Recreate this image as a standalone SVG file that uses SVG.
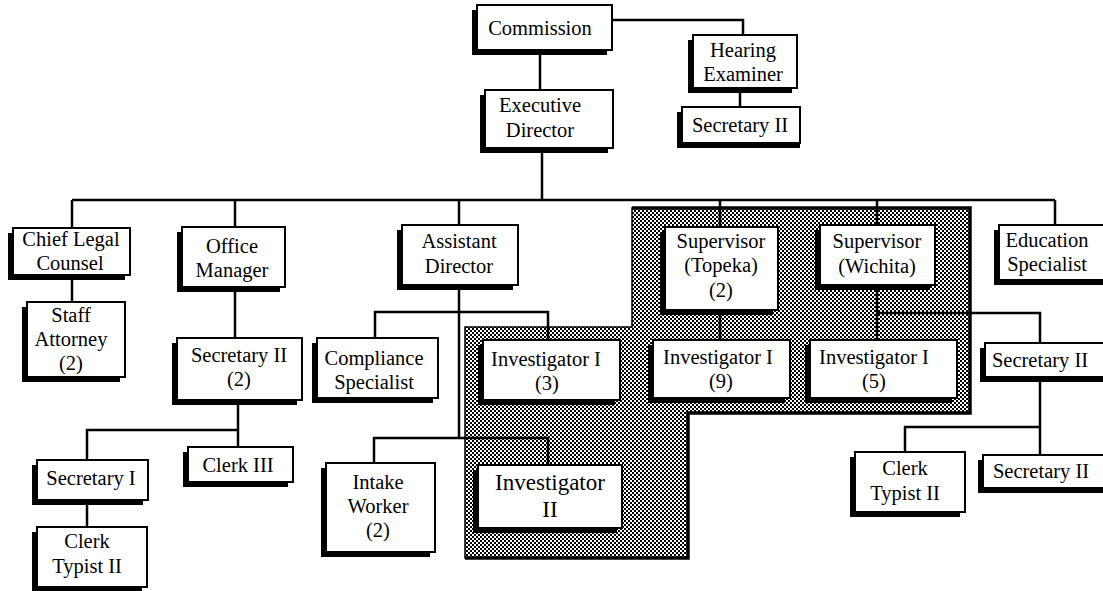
<svg xmlns="http://www.w3.org/2000/svg" width="1103" height="591" viewBox="0 0 1103 591">
<defs>
<pattern id="dither" width="4" height="4" patternUnits="userSpaceOnUse">
<rect width="4" height="4" fill="#ffffff"/>
<rect x="0" y="0" width="2" height="2" fill="#000"/>
<rect x="2" y="2" width="2" height="2" fill="#000"/>
</pattern>
<style>
.sh{fill:#000}
.bx{fill:#fff;stroke:#000;stroke-width:2}
.t{font-family:"Liberation Serif","Times New Roman",serif;font-size:20.5px;fill:#000;text-anchor:middle}
.big{font-size:23px}
.ln{fill:none;stroke:#000;stroke-width:2.5}
</style>
</defs>
<rect width="1103" height="591" fill="#fff"/>

<g id="shaded-area">
<polygon points="465,327 632,327 632,208 970,208 970,413 688,413 688,558 465,558" fill="url(#dither)" stroke="#000" stroke-width="1.5"/>
<polyline points="632,208 970,208 970,413 688,413 688,558 465,558" fill="none" stroke="#000" stroke-width="3.5"/>
</g>

<g id="connectors">
<path class="ln" d="M540,50V90"/>
<path class="ln" d="M612,20H743V35"/>
<path class="ln" d="M740,88V107"/>
<path class="ln" d="M542,148V200"/>
<path class="ln" d="M72,200H1055"/>
<path class="ln" d="M72,200V228"/>
<path class="ln" d="M235,200V227"/>
<path class="ln" d="M459,200V225"/>
<path class="ln" d="M720,200V227"/>
<path class="ln" d="M877,200V225"/>
<path class="ln" d="M1055,200V225"/>
<path class="ln" d="M72,275V302"/>
<path class="ln" d="M235,287V338"/>
<path class="ln" d="M238,400V447"/>
<path class="ln" d="M87,460V430H238"/>
<path class="ln" d="M87,500V527"/>
<path class="ln" d="M459,285V438"/>
<path class="ln" d="M375,338V312H548V340"/>
<path class="ln" d="M374,463V438H548V465"/>
<path class="ln" d="M720,310V340"/>
<path class="ln" d="M877,285V340"/>
<path class="ln" d="M877,313H1040V343"/>
<path class="ln" d="M1040,377V455"/>
<path class="ln" d="M905,452V427H1040"/>
</g>

<g id="commission"><rect class="sh" x="472" y="10" width="135" height="45"/><rect class="bx" x="477" y="5" width="135" height="45"/><text class="t" x="540" y="35">Commission</text></g>
<g id="hearing-examiner"><rect class="sh" x="688" y="40" width="104" height="53"/><rect class="bx" x="693" y="35" width="104" height="53"/><text class="t" x="743" y="57">Hearing</text><text class="t" x="743" y="81">Examiner</text></g>
<g id="secretary-2-top"><rect class="sh" x="677" y="112" width="123" height="36"/><rect class="bx" x="682" y="107" width="118" height="36"/><text class="t" x="740" y="132">Secretary II</text></g>
<g id="executive-director"><rect class="sh" x="480" y="95" width="128" height="58"/><rect class="bx" x="485" y="90" width="128" height="58"/><text class="t" x="540" y="112">Executive</text><text class="t" x="540" y="137">Director</text></g>

<g id="chief-legal-counsel"><rect class="sh" x="8" y="233" width="117" height="47"/><rect class="bx" x="13" y="228" width="117" height="47"/><text class="t" x="71" y="246">Chief Legal</text><text class="t" x="70" y="270">Counsel</text></g>
<g id="staff-attorney"><rect class="sh" x="22" y="307" width="98" height="75"/><rect class="bx" x="27" y="302" width="98" height="75"/><text class="t" x="71" y="322">Staff</text><text class="t" x="71" y="346">Attorney</text><text class="t" x="71" y="370">(2)</text></g>
<g id="office-manager"><rect class="sh" x="177" y="232" width="103" height="60"/><rect class="bx" x="182" y="227" width="103" height="60"/><text class="t" x="232" y="253">Office</text><text class="t" x="232" y="277">Manager</text></g>
<g id="secretary-2-om"><rect class="sh" x="172" y="343" width="125" height="62"/><rect class="bx" x="177" y="338" width="125" height="62"/><text class="t" x="239" y="362">Secretary II</text><text class="t" x="239" y="386">(2)</text></g>
<g id="secretary-1"><rect class="sh" x="32" y="465" width="111" height="40"/><rect class="bx" x="37" y="460" width="111" height="40"/><text class="t" x="91" y="485">Secretary I</text></g>
<g id="clerk-3"><rect class="sh" x="183" y="452" width="105" height="35"/><rect class="bx" x="188" y="447" width="105" height="35"/><text class="t" x="238" y="472">Clerk III</text></g>
<g id="clerk-typist-2-left"><rect class="sh" x="32" y="532" width="110" height="60"/><rect class="bx" x="37" y="527" width="110" height="60"/><text class="t" x="87" y="548">Clerk</text><text class="t" x="87" y="573">Typist II</text></g>

<g id="assistant-director"><rect class="sh" x="397" y="230" width="116" height="60"/><rect class="bx" x="402" y="225" width="116" height="60"/><text class="t" x="459" y="248">Assistant</text><text class="t" x="459" y="273">Director</text></g>
<g id="compliance-specialist"><rect class="sh" x="312" y="343" width="121" height="60"/><rect class="bx" x="317" y="338" width="121" height="60"/><text class="t" x="374" y="365">Compliance</text><text class="t" x="374" y="389">Specialist</text></g>
<g id="investigator-1-3"><rect class="sh" x="478" y="345" width="137" height="60"/><rect class="bx" x="483" y="340" width="137" height="60"/><text class="t" x="546" y="366">Investigator I</text><text class="t" x="547" y="390">(3)</text></g>
<g id="intake-worker"><rect class="sh" x="321" y="468" width="109" height="89"/><rect class="bx" x="326" y="463" width="109" height="89"/><text class="t" x="378" y="489">Intake</text><text class="t" x="378" y="513">Worker</text><text class="t" x="378" y="537">(2)</text></g>
<g id="investigator-2"><rect class="sh" x="473" y="470" width="144" height="63"/><rect class="bx" x="478" y="465" width="144" height="63"/><text class="t big" x="550" y="490">Investigator</text><text class="t big" x="550" y="517">II</text></g>

<g id="supervisor-topeka"><rect class="sh" x="660" y="232" width="113" height="83"/><rect class="bx" x="665" y="227" width="113" height="83"/><text class="t" x="721" y="248">Supervisor</text><text class="t" x="721" y="272">(Topeka)</text><text class="t" x="721" y="297">(2)</text></g>
<g id="supervisor-wichita"><rect class="sh" x="815" y="230" width="115" height="60"/><rect class="bx" x="820" y="225" width="115" height="60"/><text class="t" x="877" y="248">Supervisor</text><text class="t" x="877" y="273">(Wichita)</text></g>
<g id="investigator-1-9"><rect class="sh" x="648" y="345" width="137" height="58"/><rect class="bx" x="653" y="340" width="137" height="58"/><text class="t" x="718" y="364">Investigator I</text><text class="t" x="721" y="388">(9)</text></g>
<g id="investigator-1-5"><rect class="sh" x="805" y="345" width="147" height="58"/><rect class="bx" x="810" y="340" width="147" height="58"/><text class="t" x="874" y="364">Investigator I</text><text class="t" x="874" y="388">(5)</text></g>

<g id="education-specialist"><rect class="sh" x="994" y="230" width="115" height="55"/><rect class="bx" x="999" y="225" width="115" height="55"/><text class="t" x="1047" y="247">Education</text><text class="t" x="1047" y="271">Specialist</text></g>
<g id="secretary-2-right"><rect class="sh" x="980" y="348" width="130" height="34"/><rect class="bx" x="985" y="343" width="130" height="34"/><text class="t" x="1040" y="367">Secretary II</text></g>
<g id="clerk-typist-2-right"><rect class="sh" x="850" y="457" width="110" height="60"/><rect class="bx" x="855" y="452" width="110" height="60"/><text class="t" x="905" y="475">Clerk</text><text class="t" x="905" y="500">Typist II</text></g>
<g id="secretary-2-bottom-right"><rect class="sh" x="978" y="460" width="130" height="33"/><rect class="bx" x="983" y="455" width="130" height="33"/><text class="t" x="1041" y="478">Secretary II</text></g>
</svg>
